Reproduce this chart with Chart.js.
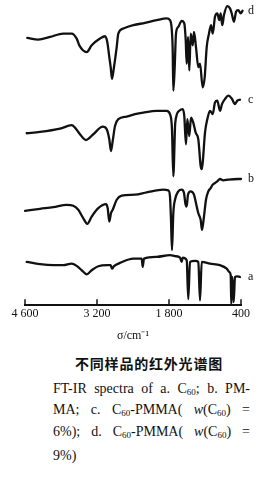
<!DOCTYPE html>
<html><head><meta charset="utf-8">
<script src="https://cdn.jsdelivr.net/npm/chart.js@4/dist/chart.umd.min.js"></script>
<style>
html,body{margin:0;padding:0;background:#fff;width:278px;height:481px;overflow:hidden;position:relative}
#c{position:absolute;left:0;top:0}
.cap{position:absolute;font-family:"Liberation Serif","DejaVu Serif",serif;font-size:14px;color:#111;line-height:16px;white-space:nowrap}
.j{width:197px;text-align:justify;text-align-last:justify;white-space:normal}
.s{font-size:9px;vertical-align:-2px;line-height:0}
</style></head><body>
<canvas id="c" width="278" height="343"></canvas>
<div class="cap" style="left:75px;top:355px;font-family:'Noto Sans CJK SC';font-weight:bold;letter-spacing:0.8px">不同样品的红外光谱图</div>
<div class="cap j" style="left:53px;top:381px">FT-IR spectra of a. C<span class="s">60</span>; b. PM-</div>
<div class="cap j" style="left:53px;top:402px">MA; c. C<span class="s">60</span>-PMMA( <i>w</i>(C<span class="s">60</span>) =</div>
<div class="cap j" style="left:53px;top:424px">6%); d. C<span class="s">60</span>-PMMA( <i>w</i>(C<span class="s">60</span>) =</div>
<div class="cap" style="left:53px;top:448px">9%)</div>
<script>
// tick labels
const tickValues = [4600, 3200, 1800, 400];
const tickLabels = ['4 600', '3 200', '1 800', '400'];
const seriesNames = ['a', 'b', 'c', 'd'];

// a. C60 (wavenumber cm-1, relative transmittance with stacking offset)
const aWn = [4567,4308,4050,3855,3692,3595,3498,3400,3303,3175,3000,2934,2908,2870,2753,2494,2331,2311,2286,2039,1781,1683,1586,1553,1534,1456,1425,1392,1295,1230,1197,1164,1003,808,678,628,600,589,569,542,517,472,420];
const aT  = [43,40.7,39.7,39.7,41.3,39,34.7,30.7,34.7,38.7,39.7,39.7,36.3,38.7,42,46.3,46.3,38,46.3,48,49.7,48.7,47.3,43,47.3,44.7,6,43,44,43,4.7,43,41.3,39.7,36.3,33,29.7,1.3,28,3,28,28.7,28];

// b. PMMA
const bWn = [4600,4308,4050,3789,3661,3564,3466,3389,3303,3175,3025,2992,2961,2928,2895,2817,2720,2461,2234,1911,1814,1781,1761,1742,1716,1683,1619,1553,1508,1483,1456,1431,1378,1314,1275,1230,1184,1158,1120,1081,1036,989,950,906,861,808,744,647,453,400];
const bT  = [93.7,95.7,97.3,99.7,98.7,94.7,86.3,80.7,88,96.3,100.3,96.3,83,91.3,94.7,104.7,108.7,109.7,112,114.7,114,108,84.7,54.7,91.3,104.7,113,114.7,111.3,101.3,98,109.7,113,109.7,101.3,91.3,84.7,74.7,88,104.7,113,116.3,119.7,121.3,123,125.3,124,124.7,125.3,125.3];

// c. C60-PMMA, w(C60)=6%
const cWn = [4567,4308,3919,3692,3628,3531,3414,3272,3089,3011,2961,2928,2895,2850,2786,2623,2461,2300,2039,1845,1781,1742,1716,1678,1600,1534,1503,1470,1444,1405,1372,1328,1281,1230,1184,1164,1145,1100,1055,1003,950,906,861,808,770,711,647,581,517,472,420];
const cT  = [170.7,172,175.3,178.7,176.3,169.7,164,169.7,177.3,174.7,164.7,153,163,178,184.7,187.3,189.7,191.3,193,193,189.7,174.7,128,181.3,193,194.7,188,159.7,184.7,168,186.3,181.3,171.3,164.7,138,135,141.3,171.3,184.7,193,189.7,201.3,203,193,199.7,204.7,208,205.3,199.7,203,204];

// d. C60-PMMA, w(C60)=9%
const dWn = [4555,4341,4114,3855,3692,3595,3544,3400,3303,3142,3045,3000,2961,2934,2908,2870,2817,2786,2689,2494,2267,2039,1845,1781,1748,1728,1716,1689,1664,1619,1553,1503,1475,1456,1431,1405,1378,1339,1314,1275,1230,1197,1145,1106,1067,1022,983,950,906,861,822,795,764,731,667,614,581,536,497,453,406,370];
const dT  = [265.3,263.7,266.3,269.7,269.7,264.7,258,251.3,258,264.7,267,261.3,246.3,236.3,224.7,236.3,256.3,269.7,274.7,278,280.3,283,284.7,283,274.7,253,213,236.3,269.7,276.3,282.3,279.7,263,239.7,266.3,233,269.7,258,271.3,256.3,236.3,239.7,216.3,226.3,256.3,269.7,278,269.7,286.3,289.7,283,289.7,278,288,297,294.7,289.7,281.3,291.3,293,289.7,292.3];

const pts = (wn, t) => wn.map((x, i) => ({ x: x, y: t[i] }));
const line = (label, data) => ({
  label, data, showLine: true, borderColor: '#111', backgroundColor: '#111',
  borderWidth: 2.3, pointRadius: 0, clip: false, cubicInterpolationMode: 'monotone',
  borderJoinStyle: 'round', borderCapStyle: 'round'
});

const deco = {
  id: 'deco',
  afterDraw(chart) {
    const ctx = chart.ctx, xs = chart.scales.x, a = chart.chartArea;
    ctx.save();
    ctx.strokeStyle = '#111';
    ctx.lineWidth = 1.5;
    tickValues.forEach(v => {
      const px = xs.getPixelForValue(v);
      ctx.beginPath(); ctx.moveTo(px, a.bottom); ctx.lineTo(px, a.bottom - 6); ctx.stroke();
    });
    ctx.fillStyle = '#111';
    ctx.font = '12px "Liberation Serif", serif';
    ctx.textBaseline = 'middle';
    ctx.textAlign = 'left';
    chart.data.datasets.forEach((ds, i) => {
      const meta = chart.getDatasetMeta(i);
      const last = meta.data[meta.data.length - 1];
      ctx.fillText(ds.label, a.right + 7, last.y);
    });
    ctx.restore();
  }
};

new Chart(document.getElementById('c'), {
  type: 'scatter',
  data: { datasets: [
    line(seriesNames[0], pts(aWn, aT)),
    line(seriesNames[1], pts(bWn, bT)),
    line(seriesNames[2], pts(cWn, cT)),
    line(seriesNames[3], pts(dWn, dT))
  ] },
  options: {
    responsive: false, animation: false, devicePixelRatio: 1,
    layout: { padding: { left: 25, right: 37, top: 0, bottom: 0 } },
    plugins: { legend: { display: false }, tooltip: { enabled: false } },
    scales: {
      x: {
        type: 'linear', reverse: true, min: 400, max: 4600,
        afterBuildTicks: s => { s.ticks = tickValues.map(v => ({ value: v })); },
        ticks: {
          callback: v => tickLabels[tickValues.indexOf(v)],
          font: { family: '"Liberation Serif", serif', size: 12 }, color: '#111',
          padding: 1, maxRotation: 0, autoSkip: false
        },
        grid: { display: true, drawOnChartArea: false, drawTicks: false },
        border: { display: true, color: '#111', width: 2 },
        title: { display: true, text: 'σ/cm⁻¹', font: { family: '"Liberation Serif", serif', size: 12 }, color: '#111', padding: { top: 7, bottom: 0 } }
      },
      y: { display: false, min: 0, max: 303 }
    }
  },
  plugins: [deco]
});
</script>
</body></html>
